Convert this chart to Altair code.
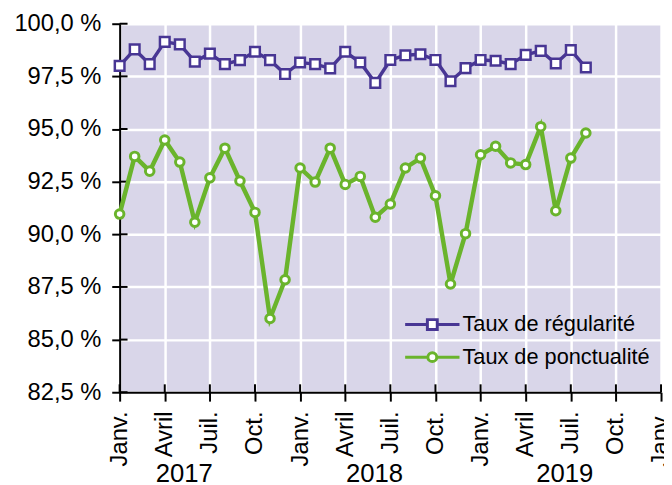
import json
import altair as alt
import pandas as pd

# ---- data ----
series = ["Taux de régularité", "Taux de ponctualité"]
month_index = list(range(32))  # Janv. 2017 ... Août 2019
regularite = [98.00, 98.78, 98.08, 99.14, 99.02, 98.20, 98.58, 98.08, 98.27, 98.67, 98.27, 97.61,
              98.16, 98.08, 97.88, 98.67, 98.16, 97.19, 98.28, 98.50, 98.55, 98.28, 97.27, 97.89,
              98.28, 98.24, 98.08, 98.52, 98.71, 98.11, 98.75, 97.92]
ponctualite = [90.96, 93.70, 93.00, 94.48, 93.43, 90.57, 92.68, 94.09, 92.53, 91.04, 86.00, 87.84,
               93.15, 92.48, 94.09, 92.37, 92.75, 90.81, 91.44, 93.15, 93.62, 91.83, 87.64, 90.03,
               93.78, 94.18, 93.39, 93.31, 95.11, 91.12, 93.62, 94.81]
x_ticks = list(range(0, 37, 3))
x_tick_labels = ["Janv.", "Avril", "Juil.", "Oct."]
y_ticks = [82.5, 85.0, 87.5, 90.0, 92.5, 95.0, 97.5, 100.0]
years = ["2017", "2018", "2019"]
year_anchor = [4.3, 16.95, 29.6]

# ---- tables ----
df = pd.DataFrame({
    "m": month_index * 2,
    "v": regularite + ponctualite,
    "serie": [series[0]] * len(regularite) + [series[1]] * len(ponctualite),
})
xt = pd.DataFrame({"m": x_ticks})
yt = pd.DataFrame({"v": y_ticks})
yr = pd.DataFrame({"m": year_anchor, "year": years})

W, H = 548, 373
FONT = "Liberation Sans"
PURPLE = "#483694"
GREEN = "#6ab42c"
COLORS = [PURPLE, GREEN]

x_scale = alt.Scale(domain=[0, 36], nice=False, zero=False)
y_scale = alt.Scale(domain=[82.5, 100], nice=False, zero=False)

x_axis = alt.Axis(
    values=x_ticks, title=None,
    labelExpr=json.dumps(x_tick_labels) + "[(datum.value / 3) % 4]",
    labelAngle=270, labelAlign="right", labelBaseline="middle",
    labelFont=FONT, labelFontSize=24, labelColor="black", labelPadding=10,
    labelOverlap=False, labelFlush=False, labelBound=False,
    tickSize=9, tickWidth=2, tickColor="black",
    domainColor="black", domainWidth=2,
    grid=True, gridColor="white", gridWidth=2.5, gridOpacity=1,
)
y_axis = alt.Axis(
    values=y_ticks, title=None,
    labelExpr="replace(format(datum.value, '.1f'), '.', ',') + ' %'",
    labelFont=FONT, labelFontSize=24, labelColor="black", labelPadding=11,
    labelOverlap=False, labelFlush=False,
    tickSize=8, tickWidth=2, tickColor="black",
    domainColor="black", domainWidth=2,
    grid=True, gridColor="white", gridWidth=2.5, gridOpacity=1,
)

# legend symbols: a 55px line with the marker in its middle (unit = 10px)
sq_path = "M-2.75,0H-0.5M0.5,0H2.75M-0.5,-0.5H0.5V0.5H-0.5Z"
ci_path = "M-2.75,0H-0.45M0.45,0H2.75M-0.45,0A0.45,0.45 0 1,0 0.45,0A0.45,0.45 0 1,0 -0.45,0Z"

legend = alt.Legend(
    title=None, orient="none", legendX=305, legendY=293,
    labelFont=FONT, labelFontSize=22, labelColor="black", labelOffset=19, labelLimit=400,
    symbolSize=400, symbolStrokeWidth=3, symbolFillColor="white", symbolOpacity=1,
    padding=0, rowPadding=10,
)

X = alt.X("m:Q", scale=x_scale, axis=x_axis)
Y = alt.Y("v:Q", scale=y_scale, axis=y_axis)

layers = []
for name, col, lw in zip(series, COLORS, [3.5, 4.5]):
    layers.append(alt.Chart(df).transform_filter(alt.datum.serie == name).mark_line(
        color=col, strokeWidth=lw).encode(x=X, y=Y))

squares = alt.Chart(df).transform_filter(alt.datum.serie == series[0]).mark_point(
    shape="square", fill="white", stroke=PURPLE, strokeWidth=2.5, size=95, opacity=1, filled=False
).encode(x=X, y=Y)
circles = alt.Chart(df).transform_filter(alt.datum.serie == series[1]).mark_point(
    shape="circle", fill="white", stroke=GREEN, strokeWidth=3, size=75, opacity=1, filled=False
).encode(x=X, y=Y)

# legend-only layer (draws nothing, the legend comes from the scale domains)
legend_layer = alt.Chart(df).transform_filter("false").mark_point(
    filled=False, fill="white", strokeWidth=3, opacity=1
).encode(
    x=X, y=Y,
    color=alt.Color("serie:N", scale=alt.Scale(domain=series, range=COLORS), legend=legend),
    shape=alt.Shape("serie:N", scale=alt.Scale(domain=series, range=[sq_path, ci_path]), legend=legend),
)

inner_y = alt.Chart(yt).mark_rule(color="black", strokeWidth=2).encode(
    y=Y, x=alt.value(0), x2=alt.value(8))
inner_x = alt.Chart(xt).mark_rule(color="black", strokeWidth=2).encode(
    x=X, y=alt.value(H - 8), y2=alt.value(H))
year_text = alt.Chart(yr).mark_text(
    font=FONT, fontSize=26, color="black", align="center", baseline="alphabetic"
).encode(x=X, y=alt.value(H + 91), text="year:N")

chart = alt.layer(inner_y, inner_x, *layers, squares, circles, legend_layer, year_text).properties(
    width=W, height=H,
    padding={"left": 113, "top": 13, "right": 3, "bottom": 92},
    autosize=alt.AutoSizeParams(type="none"),
    background="white",
).configure_view(stroke=None, fill="#d9d6e9")

chart.save("out.html", embed_options={"renderer": "svg", "actions": False})
